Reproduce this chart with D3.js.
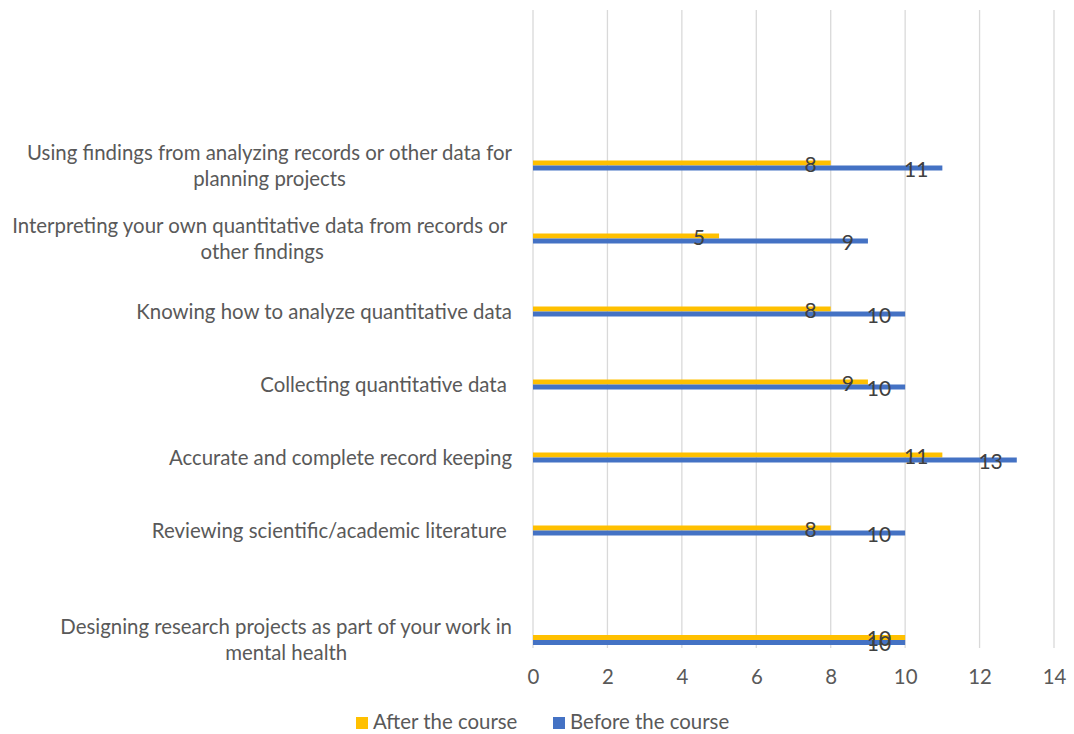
<!DOCTYPE html>
<html>
<head>
<meta charset="utf-8">
<script src="https://cdn.jsdelivr.net/npm/d3@7"></script>
<style>
  body { margin: 0; background: #fff; }
  text { font-family: Lato, 'Open Sans', sans-serif; white-space: pre; }
</style>
</head>
<body>
<div id="chart"></div>
<script>
// categories top to bottom, '\n' marks where Excel wrapped the label
const categories = [
  'Using findings from analyzing records or other data for\nplanning projects',
  'Interpreting your own quantitative data from records or \nother findings',
  'Knowing how to analyze quantitative data',
  'Collecting quantitative data ',
  'Accurate and complete record keeping',
  'Reviewing scientific/academic literature ',
  'Designing research projects as part of your work in\nmental health',
];
const afterCourse = [8, 5, 8, 9, 11, 8, 10];
const beforeCourse = [11, 9, 10, 10, 13, 10, 10];
const seriesNames = ['After the course', 'Before the course'];
const seriesColors = ['#FFC000', '#4472C4'];
const xTicks = [0, 2, 4, 6, 8, 10, 12, 14];

const size = { width: 1074, height: 734 };
const plot = { left: 533, right: 1054, top: 10, bottom: 648 };
const fontSize = '20.4px';

const svg = d3
  .select('#chart')
  .append('svg')
  .attr('width', size.width)
  .attr('height', size.height);

const x = d3.scaleLinear().domain([0, 14]).range([plot.left, plot.right]);

// rows are evenly spaced except the last, which sits half a row lower
const rowOf = (i) => (i < categories.length - 1 ? i : i + 0.5);
const y = d3.scaleLinear().domain([0, 5]).range([165.5, 530.5]);

const inner = d3.scaleBand().domain(seriesNames).range([-5, 5]);

// gridlines
svg
  .append('g')
  .selectAll('line')
  .data(xTicks)
  .join('line')
  .attr('x1', (d) => x(d))
  .attr('x2', (d) => x(d))
  .attr('y1', plot.top)
  .attr('y2', plot.bottom)
  .attr('stroke', '#D9D9D9')
  .attr('stroke-width', 1.3);

// x axis labels
svg
  .append('g')
  .attr('transform', `translate(0, ${plot.bottom + 29})`)
  .call(d3.axisBottom(x).tickValues(xTicks).tickSize(0).tickPadding(0))
  .call((g) => g.select('.domain').remove())
  .selectAll('text')
  .attr('dy', '0.35em')
  .attr('fill', '#595959')
  .style('font-size', fontSize);

const rows = categories.map((c, i) => ({
  label: c,
  values: [afterCourse[i], beforeCourse[i]],
  row: rowOf(i),
}));

// bars
const rowG = svg
  .append('g')
  .selectAll('g')
  .data(rows)
  .join('g')
  .attr('transform', (d) => `translate(0, ${y(d.row)})`);

rowG
  .selectAll('rect')
  .data((d) => d.values.map((v, k) => ({ v, k })))
  .join('rect')
  .attr('x', x(0))
  .attr('y', (d) => inner(seriesNames[d.k]))
  .attr('width', (d) => x(d.v) - x(0))
  .attr('height', inner.bandwidth())
  .attr('fill', (d) => seriesColors[d.k]);

// data labels, inside end
rowG
  .selectAll('text.val')
  .data((d) => d.values.map((v, k) => ({ v, k })))
  .join('text')
  .attr('class', 'val')
  .attr('x', (d) => x(d.v) - 14)
  .attr('y', (d) => inner(seriesNames[d.k]) + inner.bandwidth() / 2 + 1.5)
  .attr('dy', '0.35em')
  .attr('text-anchor', 'end')
  .attr('fill', '#404040')
  .style('font-size', '21px')
  .text((d) => d.v);

// category labels, wrapped lines centred inside a right-aligned block
const labelRight = 512;
const lineH = 26;
rowG.each(function (d) {
  const lines = d.label.split('\n');
  const g = d3.select(this);
  const texts = lines.map((line, j) =>
    g
      .append('text')
      .attr('y', (j - (lines.length - 1) / 2) * lineH)
      .attr('dy', '0.35em')
      .attr('fill', '#595959')
      .style('font-size', fontSize)
      .text(line),
  );
  const widths = texts.map((t) => t.node().getComputedTextLength());
  const blockW = d3.max(widths);
  texts.forEach((t) =>
    t.attr('x', labelRight - blockW / 2).attr('text-anchor', 'middle'),
  );
});

// legend
const legend = svg
  .append('g')
  .selectAll('g')
  .data(seriesNames)
  .join('g')
  .attr('transform', (d, i) => `translate(${[356, 553][i]}, 722)`);

legend
  .append('rect')
  .attr('x', 0)
  .attr('y', -5)
  .attr('width', 12)
  .attr('height', 12)
  .attr('fill', (d, i) => seriesColors[i]);

legend
  .append('text')
  .attr('x', 17)
  .attr('dy', '0.35em')
  .attr('fill', '#595959')
  .style('font-size', fontSize)
  .text((d) => d);
</script>
</body>
</html>
